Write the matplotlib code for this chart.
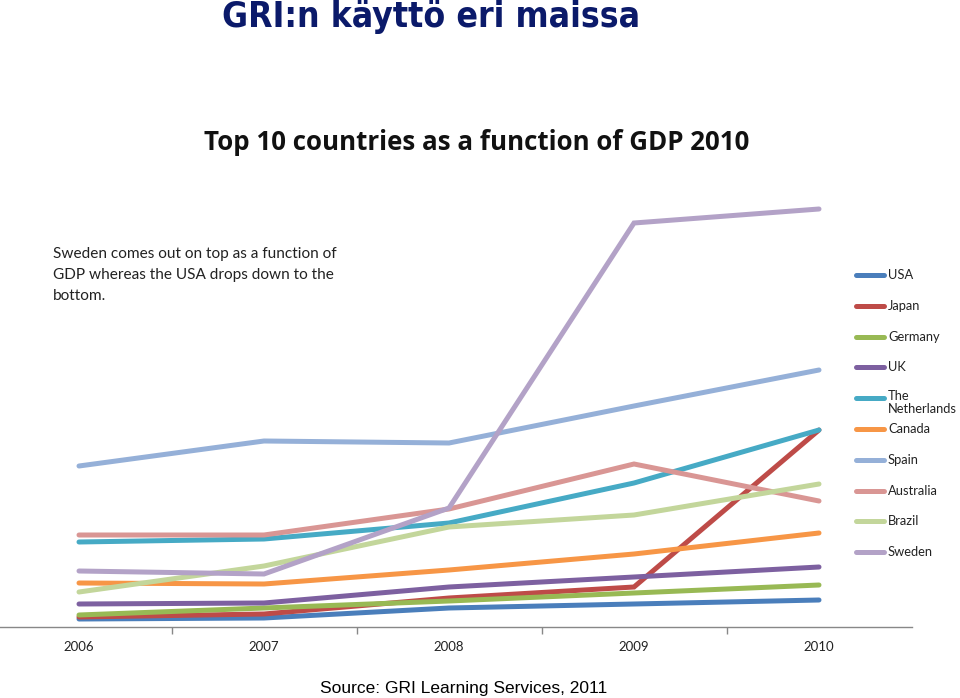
import numpy as np
import matplotlib
matplotlib.use('Agg')
import matplotlib.pyplot as plt
from matplotlib.lines import Line2D

years = ['2006', '2007', '2008', '2009', '2010']
countries = ['USA', 'Japan', 'Germany', 'UK', 'The\nNetherlands',
             'Canada', 'Spain', 'Australia', 'Brazil', 'Sweden']
colors = ['#4A7EBB', '#BE4B48', '#98B954', '#7D60A0', '#46AAC5',
          '#F79646', '#95B0D8', '#D99694', '#C3D69B', '#B3A2C7']

# values (no y scale shown, relative units)
usa = [8, 9, 19, 23, 27]
japan = [10, 13, 29, 40, 197]
germany = [12, 19, 26, 34, 42]
uk = [23, 24, 40, 50, 60]
netherlands = [85, 88, 104, 144, 197]
canada = [44, 43, 57, 73, 94]
spain = [161, 186, 184, 221, 257]
australia = [92, 92, 118, 163, 126]
brazil = [35, 61, 100, 112, 143]
sweden = [56, 53, 119, 404, 418]
series = [usa, japan, germany, uk, netherlands,
          canada, spain, australia, brazil, sweden]

W, H = 960, 698
fig = plt.figure(figsize=(W / 100, H / 100), dpi=100)

def fx(px):
    return px / W

def fy(py):
    return 1 - py / H

# plot area: categories at x=79..819 px, axis line at y=627 px
left, right = 79 - 92.5, 819 + 92.5
ax = fig.add_axes([fx(left), fy(627), fx(right - left), fy(130) - fy(627)])
x = np.arange(len(years))
for vals, c in zip(series, colors):
    ax.plot(x, vals, color=c, lw=3.6, solid_capstyle='round',
            solid_joinstyle='miter')

ax.set_xlim(-0.5, len(years) - 0.5)
ax.set_ylim(0, 497)
ax.set_xticks(x)
ax.set_xticklabels(years, family='Lato', fontsize=9.5, color='#222222')
ax.set_xticks(x[:-1] + 0.5, minor=True)
ax.tick_params(axis='x', which='major', length=0, pad=10)
ax.tick_params(axis='x', which='minor', length=5, color='#888888', width=1)
ax.set_yticks([])
for s in ['top', 'right', 'left']:
    ax.spines[s].set_visible(False)
ax.spines['bottom'].set_color('#888888')
ax.spines['bottom'].set_linewidth(1)

# legend drawn as in the original (fixed spacing)
for i, (name, c) in enumerate(zip(countries, colors)):
    py = 275 + 30.8 * i
    fig.add_artist(Line2D([fx(856), fx(884)], [fy(py), fy(py)],
                          transform=fig.transFigure, color=c, lw=3.6,
                          solid_capstyle='round'))
    if '\n' in name:
        fig.text(fx(888), fy(py - 8), name, family='Lato', fontsize=9.3,
                 va='top', ha='left', color='#222222', linespacing=1.1)
    else:
        fig.text(fx(888), fy(py), name, family='Lato', fontsize=9.3,
                 va='center', ha='left', color='#222222')

fig.text(fx(222), fy(17), 'GRI:n käyttö eri maissa', family='DejaVu Sans',
         fontstretch='condensed', fontweight='bold', fontsize=25.5,
         color='#0B1A6A', va='center', ha='left')
fig.text(fx(477), fy(143), 'Top 10 countries as a function of GDP 2010',
         family='Open Sans', fontweight='bold', fontsize=18.6, color='#111111',
         va='center', ha='center')
fig.text(fx(53), fy(275),
         'Sweden comes out on top as a function of\n'
         'GDP whereas the USA drops down to the\nbottom.',
         family='Lato', fontsize=11.1, color='#222222', va='center',
         ha='left', linespacing=1.68)
fig.text(fx(464), fy(689), 'Source: GRI Learning Services, 2011',
         family='Liberation Sans', fontsize=12.5, color='#000000',
         va='center', ha='center')

fig.savefig('out.png', dpi=100)
